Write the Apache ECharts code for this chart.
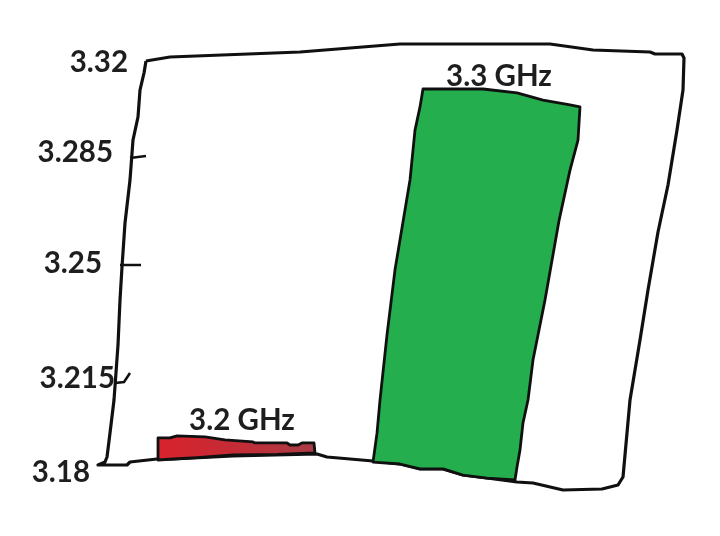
<!DOCTYPE html>
<html>
<head>
<meta charset="utf-8">
<style>html,body{margin:0;padding:0;background:#fff}#c{width:720px;height:536px}</style>
<script src="https://cdn.jsdelivr.net/npm/echarts@6/dist/echarts.min.js"></script>
</head>
<body>
<div id="c"></div>
<script>
const categories = ['3.2 GHz', '3.3 GHz'];
const values = [3.192, 3.31];
const tickLabels = ['3.18', '3.215', '3.25', '3.285', '3.32'];

const INK = '#101010';
const FONT = 'Lato, sans-serif';

/* Hand-drawn outlines: [x offset in px from the category centre, fraction of bar height]. */
const sketch = [
  { points: [[-79,.969],[-67,.969],[-60,1.026],[-32,.997],[-12,.912],[16,.855],[18,.826],[50,.826],[53,.769],[61,.769],[65,.826],[77,.826],[78,.541],[40,.50],[-4,.484],[-40,.41],[-64,.370],[-79,.342]],
    fill: { type:'linear', x:0, y:0, x2:1, y2:0, colorStops:[{offset:0,color:'#d9232e'},{offset:.5,color:'#c42c36'},{offset:1,color:'#a83c46'}] },
    labelDx: 5, labelDy: -16 },
  { points: [[-18,1.006],[42,1.006],[76,.996],[102,.977],[129,.964],[139,.959],[137,.872],[129,.793],[118,.66],[104,.452],[92,.294],[87,.189],[82,.129],[79,.058],[76,.013],[74,-.021],[46,-.016],[22,-.008],[2,.008],[-21,.008],[-41,.021],[-68,.026],[-64,.102],[-61,.189],[-54,.36],[-46,.531],[-31,.767],[-26,.898],[-21,.959]],
    fill: '#24ae4e',
    labelDx: 58, labelDy: -15 }
];

/* Wobbly hand-drawn frame and tick strokes (decoration, not data). */
const frame = [[146,61],[170,57],[300,52],[400,44],[550,44],[593,50],[650,52],[655,54],[682,54],[684,58],[683,90],[677,130],[668,185],[658,232],[648,290],[640,340],[630,400],[627,433],[623,477],[618,485],[602,489],[563,490],[533,483],[517,482],[487,478],[463,475],[443,469],[420,469],[400,464],[373,461],[350,459],[327,457],[317,454],[233,456],[173,459],[157,459],[130,462],[127,465],[98,465],[105,462],[107,457],[110,433],[114,400],[118,345],[120,300],[122,267],[125,223],[130,180],[133,140],[138,117],[140,90],[144,73],[146,61]];
const strokes = [
  [[130,158],[146,156]],
  [[120,265],[141,265]],
  [[115,383],[124,382],[130,373]]
];

const labelRich = {
  l0: { padding: [0, 40, 0, 0] },
  l1: { padding: [17, 15, 0, 0] },
  l2: { padding: [0, 28, 8, 0] },
  l3: { padding: [0, 17, 25, 0] },
  l4: { padding: [0, 2, 0, 0] }
};
Object.values(labelRich).forEach(s => Object.assign(s, { fontFamily: FONT, fontWeight: 700, fontSize: 29.5, color: '#1e1e1e' }));

const chart = echarts.init(document.getElementById('c'), null, { renderer: 'canvas' });
chart.setOption({
  animation: false,
  backgroundColor: '#fff',
  grid: { left: 135, top: 62, width: 408, height: 410 },
  xAxis: { type: 'category', data: categories, axisLine: { show: false }, axisTick: { show: false }, axisLabel: { show: false }, splitLine: { show: false } },
  yAxis: {
    type: 'value', min: 3.18, max: 3.32, interval: 0.035,
    axisLine: { show: false }, axisTick: { show: false }, splitLine: { show: false },
    axisLabel: { margin: 5, align: 'right', hideOverlap: false, formatter: (v, i) => `{l${i}|${tickLabels[i]}}`, rich: labelRich }
  },
  graphic: [
    { type: 'polyline', z: 1, shape: { points: frame }, style: { fill: null, stroke: INK, lineWidth: 3.2, lineJoin: 'round' } },
    ...strokes.map(p => ({ type: 'polyline', z: 1, shape: { points: p }, style: { fill: null, stroke: INK, lineWidth: 2.5 } }))
  ],
  series: [{
    type: 'custom',
    clip: false,
    z: 5,
    encode: { x: 0, y: 1 },
    data: values.map((v, i) => [i, v]),
    renderItem(params, api) {
      const i = api.value(0), top = api.coord([i, api.value(1)]), base = api.coord([i, 3.18]);
      const s = sketch[i], h = base[1] - top[1];
      return {
        type: 'group',
        children: [
          { type: 'polygon', shape: { points: s.points.map(([dx, v]) => [top[0] + dx, base[1] - v * h]) }, style: { fill: s.fill, stroke: INK, lineWidth: 2.8, lineJoin: 'round' } },
          { type: 'text', x: top[0] + s.labelDx, y: top[1] + s.labelDy, style: { text: categories[i], font: `700 29.5px ${FONT}`, fill: '#1e1e1e', align: 'center', verticalAlign: 'middle' } }
        ]
      };
    }
  }]
});
</script>
</body>
</html>
